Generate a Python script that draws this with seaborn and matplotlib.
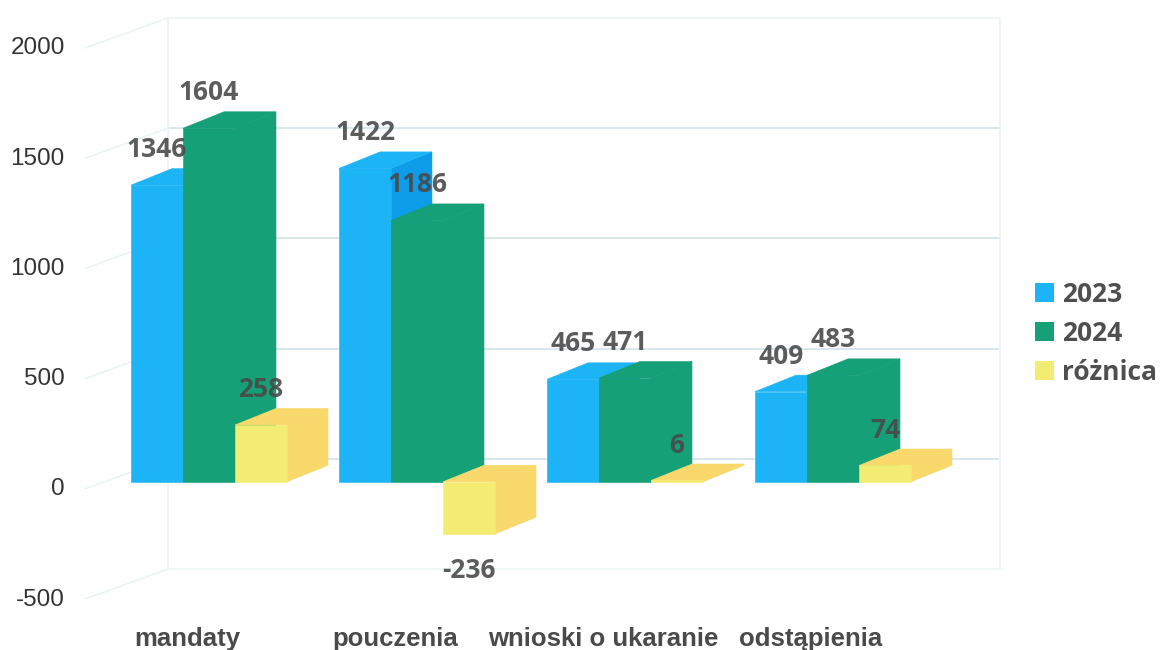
import matplotlib
matplotlib.use("Agg")
import matplotlib.pyplot as plt
from matplotlib.patches import Polygon
from matplotlib.transforms import ScaledTranslation
import pandas as pd
import seaborn as sns

categories = ["mandaty", "pouczenia", "wnioski o ukaranie", "odstąpienia"]
values_2023 = [1346, 1422, 465, 409]
values_2024 = [1604, 1186, 471, 483]
values_diff = [258, -236, 6, 74]
series_names = ["2023", "2024", "różnica"]
y_ticks = [-500, 0, 500, 1000, 1500, 2000]

front_colors = ["#1DB4F5", "#15A077", "#F3EC72"]
side_colors = ["#0C9CE8", "#15A077", "#F9D96B"]
top_colors = ["#1DB4F5", "#15A077", "#F9D96B"]

W, H = 1161, 650
DPI = 100
PX_X = 208.0        # pixels per category
PX_Y = 0.2205       # pixels per value unit

df = pd.DataFrame({
    "kategoria": categories * 3,
    "seria": [s for s in series_names for _ in categories],
    "wartosc": values_2023 + values_2024 + values_diff,
})

sns.set_theme(style="white")
plt.rcParams["axes.unicode_minus"] = False
fig = plt.figure(figsize=(W / DPI, H / DPI), dpi=DPI, facecolor="white")
ax = fig.add_axes([105 / W, 1 - 592 / H, 832 / W, 551 / H])
ax.patch.set_alpha(0)

sns.barplot(data=df, x="kategoria", y="wartosc", hue="seria", order=categories,
            hue_order=series_names, palette=front_colors, width=0.75, gap=0,
            saturation=1, errorbar=None, ax=ax, linewidth=0)

ax.set_xlim(-0.5, 3.5)
ax.set_ylim(-500, 2000)
ax.set_xlabel("")
ax.set_ylabel("")
sns.despine(ax=ax, left=True, bottom=True)
ax.grid(False)

# extrusion of each bar, derived from the bar rectangles
depth_x, depth_y = 41 / PX_X, 16.5 / PX_Y
z = 3
for c_i, container in enumerate(ax.containers):
    for rect, val in zip(container.patches, container.datavalues):
        x0, x1 = rect.get_x(), rect.get_x() + rect.get_width()
        y0, y1 = sorted([rect.get_y(), rect.get_y() + rect.get_height()])
        side = [(x1, y0), (x1 + depth_x, y0 + depth_y),
                (x1 + depth_x, y1 + depth_y), (x1, y1)]
        top = [(x0, y1), (x1, y1), (x1 + depth_x, y1 + depth_y), (x0 + depth_x, y1 + depth_y)]
        ax.add_patch(Polygon(side, closed=True, fc=side_colors[c_i], ec=side_colors[c_i], lw=0.4,
                             zorder=z, clip_on=False))
        ax.add_patch(Polygon(top, closed=True, fc=top_colors[c_i], ec=top_colors[c_i], lw=0.4,
                             zorder=z + 0.1, clip_on=False))
        rect.set_zorder(z + 0.5)
        rect.set_clip_on(False)
        rect.set_edgecolor(front_colors[c_i])
        rect.set_linewidth(0.4)
        z += 1

# value labels
for container in ax.containers:
    for rect, val in zip(container.patches, container.datavalues):
        cx = rect.get_x() + rect.get_width() / 2
        ax.annotate(f"{val:.0f}", xy=(cx, val), xytext=(0, 25.5 if val >= 0 else -26.5),
                    textcoords="offset points", ha="center", va="center",
                    family="Open Sans", fontweight="bold", fontsize=19,
                    color="#4a4a4a", alpha=0.9, zorder=50, annotation_clip=False)

# back wall, side wall
back_dx, back_dy = 63 / PX_X, 23 / PX_Y
x_left, x_right = -0.5 + back_dx, 3.5 + back_dx
wall_dx, wall_dy = 83 / PX_X, 30 / PX_Y
for v in y_ticks:
    strong = v not in (-500, 2000)
    col = "#d6e5ea" if strong else "#f0f6f7"
    ax.plot([x_left, x_right], [v + back_dy] * 2, color=col, lw=1.3, zorder=1, clip_on=False)
    ax.plot([x_left - wall_dx, x_left], [v + back_dy - wall_dy, v + back_dy],
            color="#e9f2f4", lw=1.1, zorder=1, clip_on=False)
for x in (x_left, x_right):
    ax.plot([x, x], [y_ticks[0] + back_dy, y_ticks[-1] + back_dy], color="#ebf3f5", lw=1.1,
            zorder=1, clip_on=False)
ax.set_xlim(-0.5, 3.5)
ax.set_ylim(-500, 2000)

# ticks
ax.set_yticks(y_ticks)
ax.set_xticks(range(len(categories)))
ax.set_xticklabels(categories)
ax.tick_params(axis="both", length=0)
ax.tick_params(axis="y", pad=29, labelsize=17.5, labelcolor="#333333")
ax.tick_params(axis="x", pad=25, labelsize=18.5, labelcolor="#4a4a4a")
y_shift = ScaledTranslation(0, -5 / 100, fig.dpi_scale_trans)
for lab in ax.get_yticklabels():
    lab.set_family("Liberation Sans")
    lab.set_transform(lab.get_transform() + y_shift)
x_shift = ScaledTranslation(-22 / 100, 0, fig.dpi_scale_trans)
for lab in ax.get_xticklabels():
    lab.set_family("Liberation Sans")
    lab.set_fontweight("bold")
    lab.set_transform(lab.get_transform() + x_shift)

# legend
handles, labels = ax.get_legend_handles_labels()
ax.get_legend().remove()
leg = fig.legend(handles, labels, loc="upper left", bbox_to_anchor=(1035 / W, 1 - 281 / H),
                 frameon=False, borderpad=0, borderaxespad=0, handlelength=0.72, handleheight=0.72,
                 handletextpad=0.3, labelspacing=0.45,
                 prop={"family": "Open Sans", "weight": "bold", "size": 19})
for t in leg.get_texts():
    t.set_color("#4f4f4f")

fig.savefig("out.png", dpi=DPI, facecolor="white")
